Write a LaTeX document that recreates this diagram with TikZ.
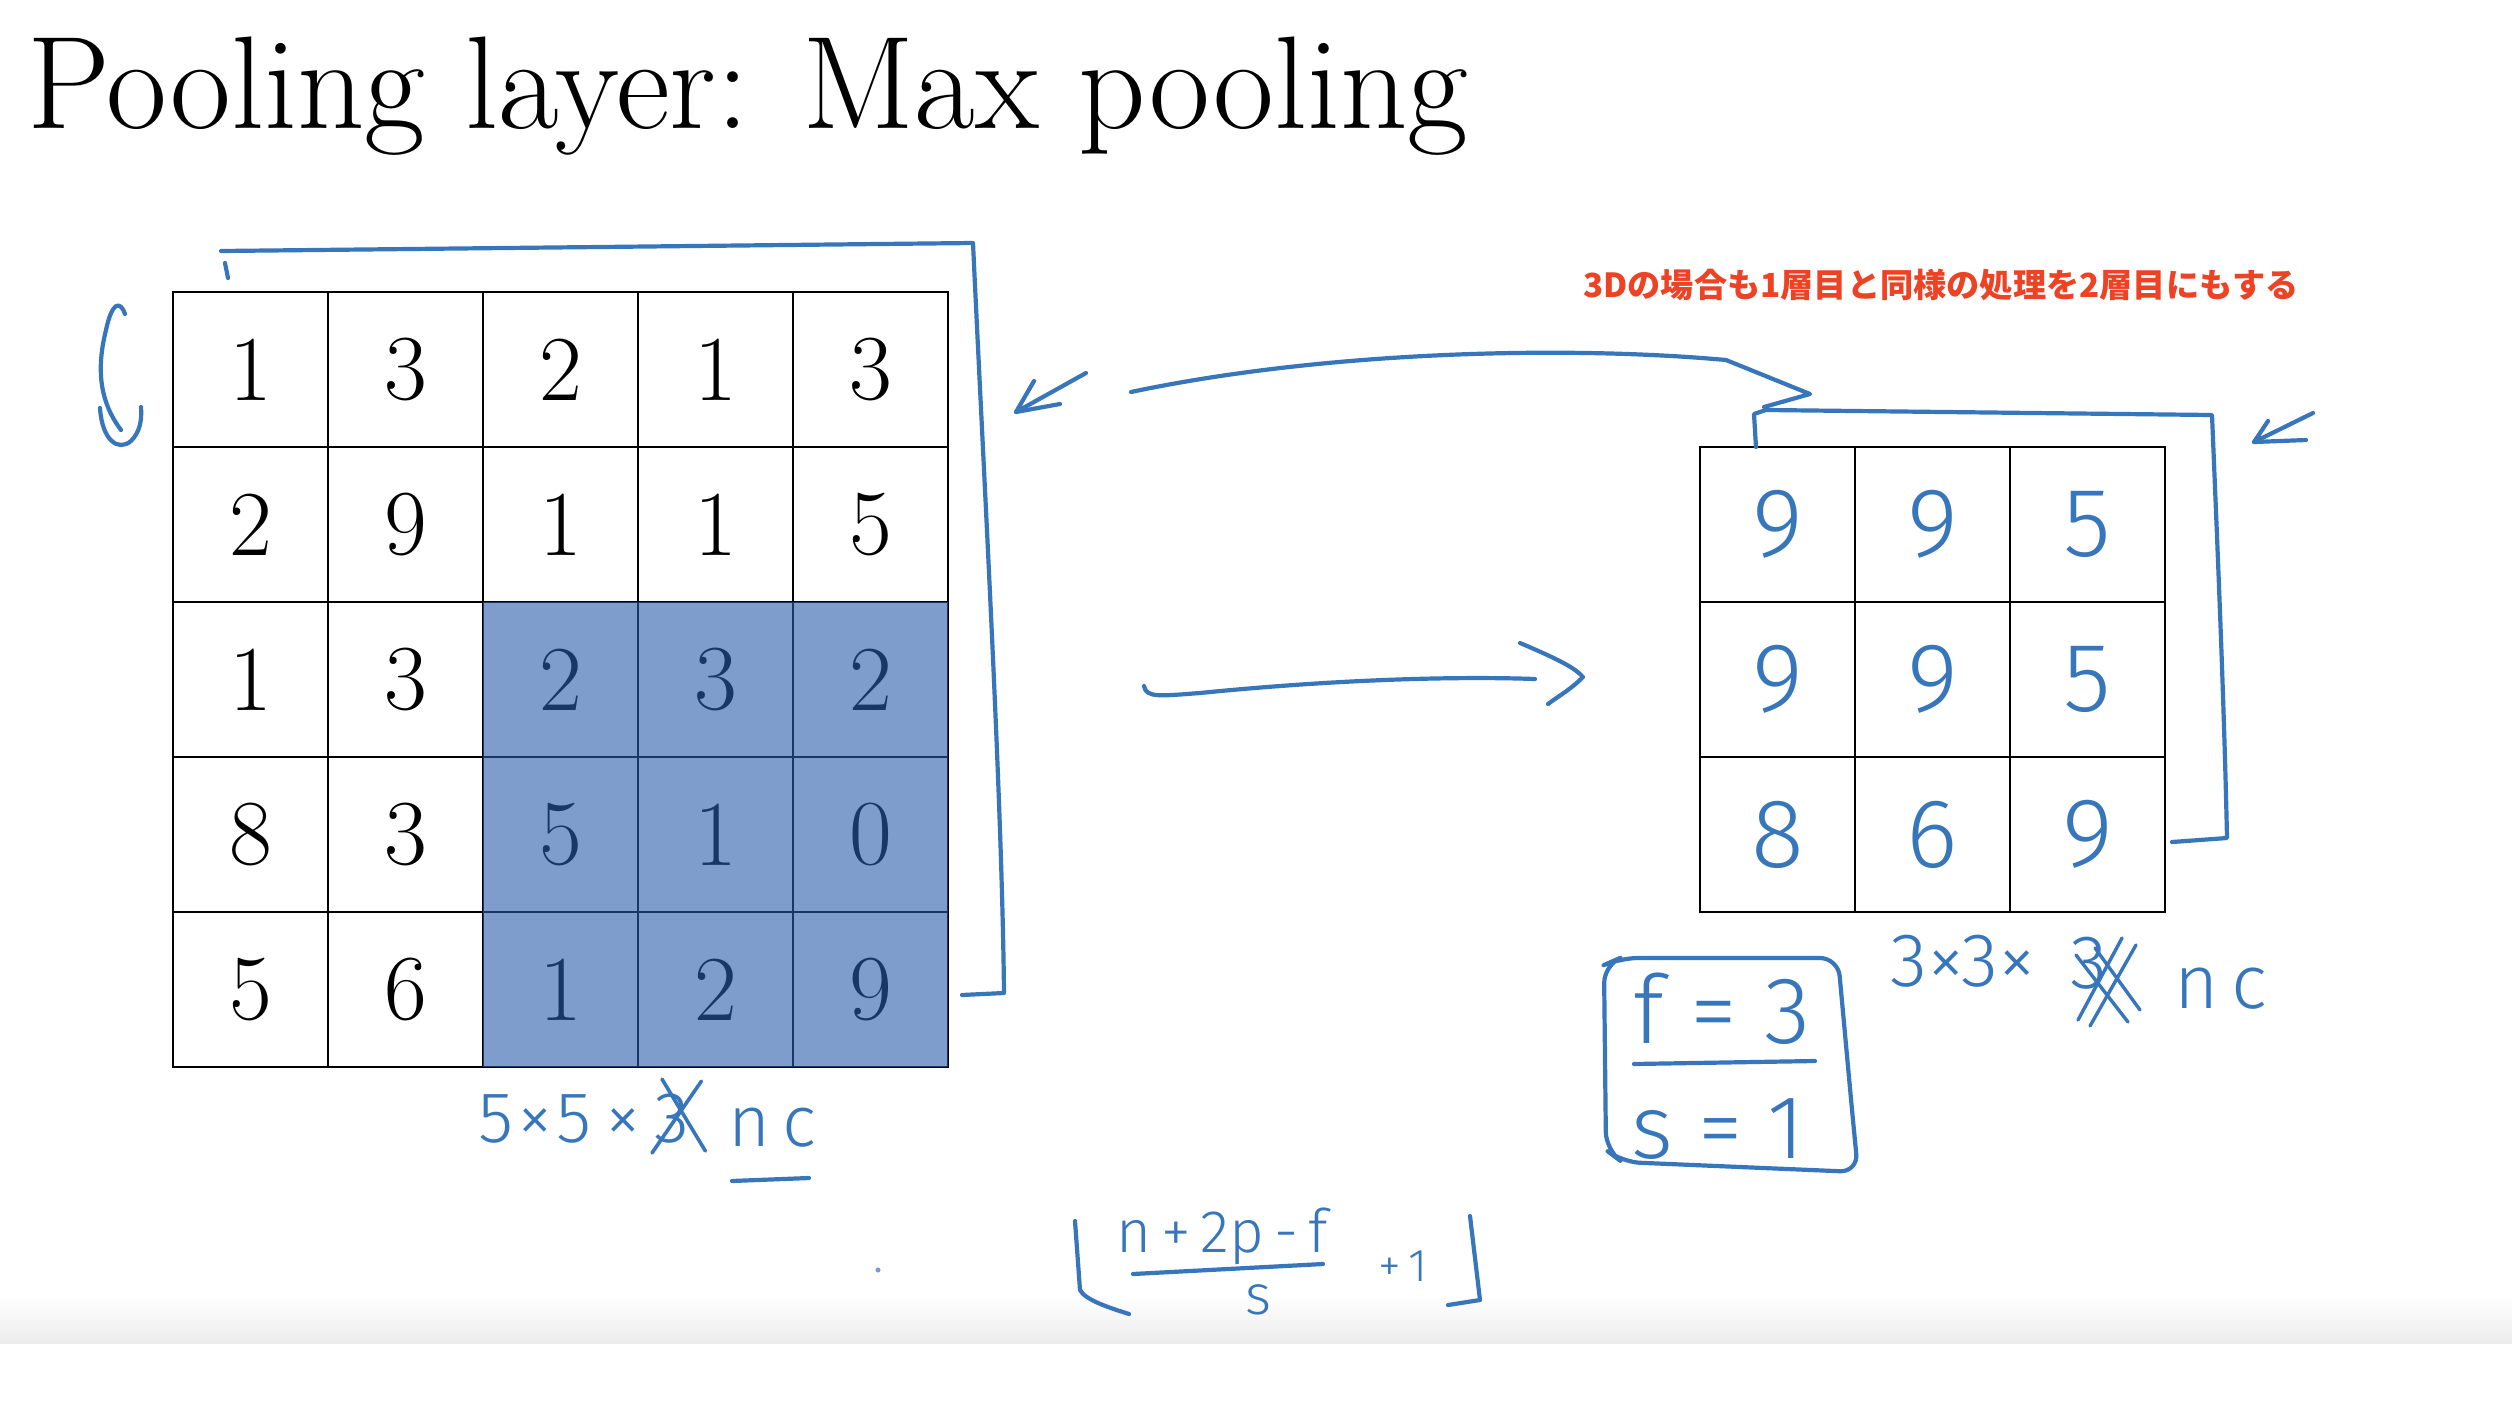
\documentclass[tikz,border=0pt]{standalone}
\usepackage{fontspec}
\newfontfamily\cjk{Noto Sans CJK JP}
\newfontfamily\hand{Fira Sans Light}
\definecolor{hblue}{RGB}{56,118,188}
\definecolor{jred}{RGB}{238,66,36}
\definecolor{poolblue}{RGB}{42,92,170}
\definecolor{bandgray}{RGB}{236,236,236}
\begin{document}
\begin{tikzpicture}[x=1pt,y=-1pt,
  cell/.style={draw=black, line width=2.8pt, minimum width=155pt, minimum height=155pt, inner sep=0pt, outer sep=0pt, font=\fontsize{93}{93}\selectfont},
  hcell/.style={cell, text=hblue, font=\hand\fontsize{98}{98}\selectfont},
  stroke/.style={draw=hblue, line width=4.2pt, line cap=round, line join=round},
  hlbl/.style={text=hblue, inner sep=0pt, font=\hand\fontsize{#1}{#1}\selectfont},
  hlbl/.default=72]
\useasboundingbox (0,0) rectangle (2512,1414);
\fill[white] (0,0) rectangle (2512,1414);
\shade[top color=white, bottom color=bandgray] (0,1296) rectangle (2512,1343);

% title
\node[anchor=base west, inner sep=0pt, font=\fontsize{132}{132}\selectfont] (title) at (27,128) {Pooling layer: Max pooling};

% note
\node[anchor=west, inner sep=0pt, text=jred, font=\cjk\bfseries\fontsize{33.2}{33.2}\selectfont] (note) at (1583,285) {3Dの場合も1層目と同様の処理を2層目にもする};

% left grid
\foreach \row [count=\r] in {{1,3,2,1,3},{2,9,1,1,5},{1,3,2,3,2},{8,3,5,1,0},{5,6,1,2,9}} {
  \foreach \v [count=\c] in \row {
    \node[cell] (L\r\c) at ({173+155*(\c-0.5)},{292+155*(\r-0.5)}) {\v};
  }
}
\fill[poolblue, opacity=0.6] (L33.north west) rectangle (L55.south east);

% right grid
\foreach \row [count=\r] in {{9,9,5},{9,9,5},{8,6,9}} {
  \foreach \v [count=\c] in \row {
    \node[hcell] (R\r\c) at ({1700+155*(\c-0.5)},{447+155*(\r-0.5)}) {\raisebox{-6pt}{\v}};
  }
}

% left bracket around the input
\coordinate (lb0) at (221,251);
\coordinate (lb1) at (973,243);
\coordinate (lb2) at (1004,993);
\coordinate (lb3) at (962,995);
\draw[stroke] (lb0) -- (600,247) -- (lb1) .. controls (985,500) and (1002,800) .. (lb2) -- (lb3);
\draw[stroke] (225,263) -- (228,278);

% left curved arrow
\draw[stroke] (125,314) .. controls (120,300) and (112,302) .. (106,330) .. controls (96,370) and (100,402) .. (121,430);
\draw[stroke] (100,408) .. controls (102,440) and (118,452) .. (131,441) .. controls (140,432) and (142,420) .. (141,407);

% small arrow pointing at left bracket
\coordinate (a1tip) at (1016,412);
\draw[stroke] (1086,373) -- (a1tip) -- (1034,381);
\draw[stroke] (a1tip) -- (1060,404);

% curved arrow to right grid and right bracket
\coordinate (ca0) at (1131,392);
\coordinate (catip) at (1810,394);
\draw[stroke] (ca0) .. controls (1320,352) and (1560,345) .. (1726,360) -- (catip) -- (1764,407);
\coordinate (rb0) at (1756,447);
\coordinate (rb1) at (1754,414);
\coordinate (rb2) at (2212,415);
\coordinate (rb3) at (2227,838);
\coordinate (rb4) at (2172,842);
\draw[stroke] (rb0) -- (rb1) -- (1766,410) -- (rb2) .. controls (2218,560) and (2224,700) .. (rb3) -- (rb4);

% small arrow pointing at right bracket
\coordinate (a2tip) at (2254,442);
\draw[stroke] (2313,413) -- (a2tip) -- (2268,421);
\draw[stroke] (a2tip) -- (2306,440);

% middle arrow
\coordinate (ma0) at (1144,686);
\coordinate (matip) at (1583,677);
\draw[stroke] (ma0) .. controls (1146,698) and (1160,696) .. (1200,693) .. controls (1330,680) and (1450,676) .. (1535,679);
\draw[stroke] (1520,643) .. controls (1560,660) and (1575,668) .. (matip) .. controls (1570,690) and (1560,695) .. (1548,704);

% size label under the input
\node[hlbl=72, anchor=base west] (l5) at (478,1142) {5\hspace{4pt}×\hspace{4pt}5\hspace{14pt}×};
\node[hlbl=72, anchor=base west] (l3) at (654,1142) {3};
\node[hlbl=72, anchor=base west] (lnc) at (728,1146) {n\,c};
\draw[stroke, line width=3.6pt] ([shift={(8,-14)}]l3.north west) -- ([shift={(16,8)}]l3.south east);
\draw[stroke, line width=3.6pt] ([shift={(12,-12)}]l3.north east) -- ([shift={(-2,10)}]l3.south west);
\draw[stroke] (732,1181) -- (809,1178);

% size label under the output
\node[hlbl=76, anchor=base west] (r3) at (1890,986) {3×3×};
\node[hlbl=76, anchor=base west] (rx) at (2070,988) {3};
\node[hlbl=76, anchor=base west] (rnc) at (2174,1008) {n\,c};
\draw[stroke, line width=3.4pt] (2076,955) -- (2128,1022);
\draw[stroke, line width=3.4pt] (2095,948) -- (2140,1010);
\draw[stroke, line width=3.4pt] (2122,938) -- (2078,1020);
\draw[stroke, line width=3.4pt] (2136,945) -- (2090,1026);

% f / s box
\node[hlbl=95, anchor=base] (fval) at (1722,1043) {f = 3};
\node[hlbl=90, anchor=base] (sval) at (1718,1158) {s = 1};
\draw[stroke] (1634,1064) -- (1815,1061);
\draw[stroke, rounded corners=18pt] (1604,965) -- (1606,1150) -- (1622,1162) -- (1858,1172) -- (1852,1110) -- (1838,958) -- (1620,958) -- cycle;

% output size formula
\node[hlbl=60] (fnum) at (1222,1236) {n\,+\,2p\,-\,f};
\draw[stroke] (1133,1274) -- (1323,1264);
\node[hlbl=56] (fden) at (1258,1300) {s};
\node[hlbl=46] (fplus) at (1403,1266) {+\,1};
\draw[stroke] (1075,1221) -- (1080,1290) .. controls (1085,1300) and (1110,1308) .. (1129,1314);
\draw[stroke] (1470,1216) -- (1480,1300) -- (1448,1305);
\fill[hblue!70] (878,1270) circle (2.5);
\end{tikzpicture}
\end{document}
